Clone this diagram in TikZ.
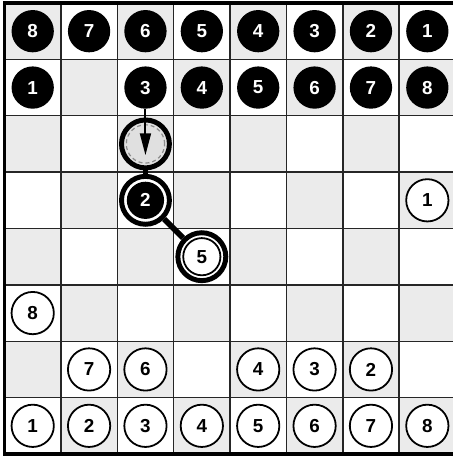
\documentclass[tikz,border=0pt]{standalone}
\usepackage{fontspec}
\setmainfont{Liberation Sans}
\usetikzlibrary{arrows.meta,calc}

\begin{document}
\begin{tikzpicture}[
		>={Triangle[length=11pt,width=5.5pt]},
		cell/.style={fill=black!8},
		gridline/.style={draw=black!85, line width=0.75pt},
		border/.style={draw=black, line width=2pt},
		piece/.style={circle, inner sep=0pt, minimum size=0.75cm, font=\fontsize{9.5}{11}\selectfont\bfseries},
		blk/.style={piece, fill=black, text=white},
		wht/.style={piece, draw=black, fill=white, line width=0.9pt},
		small/.style={minimum size=0.66cm},
		ring/.style={circle, draw=black, line width=2.5pt, inner sep=0pt, minimum size=0.85cm},
		ghost/.style={ring, fill=black!12},
		link/.style={draw=black, line width=2.8pt}
		]
		
		\useasboundingbox (-0.08,-0.053) rectangle (7.95,8.053);
		
		% -------------------------
		% Board
		% -------------------------
		\foreach \c in {0,...,7}
		\foreach \r in {0,...,7}{
			\pgfmathtruncatemacro{\s}{mod(\c+\r,2)}
			\ifnum\s=1 \fill[cell] (\c,\r) rectangle ++(1,1); \fi
		}
		\draw[gridline] (0,0) grid (8,8);
		\draw[border] (0,0) rectangle (8,8);
		
		% -------------------------
		% Black pieces
		% -------------------------
		\foreach \c in {0,...,7}{
			\pgfmathtruncatemacro{\n}{8-\c}
			\node[blk] (bb\n) at (\c+0.5,7.5) {\n};
		}
		\foreach \c/\n in {0/1,2/3,3/4,4/5,5/6,6/7,7/8}
			\node[blk] (bf\n) at (\c+0.5,6.5) {\n};
		
		% -------------------------
		% White pieces
		% -------------------------
		\foreach \c in {0,...,7}{
			\pgfmathtruncatemacro{\n}{\c+1}
			\node[wht] (wb\n) at (\c+0.5,0.5) {\n};
		}
		\foreach \c/\n in {1/7,2/6,4/4,5/3,6/2}
			\node[wht] (wf\n) at (\c+0.5,1.5) {\n};
		\node[wht] (wf8) at (0.5,2.5) {8};
		\node[wht] (wf1) at (7.5,4.5) {1};
		
		% -------------------------
		% Move
		% -------------------------
		\node[ghost] (gh) at (2.5,5.5) {};
		\draw[black!45, dashed, dash pattern=on 2pt off 1.5pt, line width=0.6pt] (gh.center) circle (0.34);
		
		\node[ring] (r2) at (2.5,4.5) {};
		\node[ring] (r5) at (3.5,3.5) {};
		\node[blk, small] (bf2) at (r2) {2};
		\node[wht, small] (wf5) at (r5) {5};
		
		\draw[link] (gh) -- (r2);
		\draw[link] (r2) -- (r5);
		
		\coordinate (tip) at ($(gh.center)+(0,-0.2)$);
		\draw[->, line width=1pt] (bf3) -- (tip);
		
	\end{tikzpicture}
\end{document}
